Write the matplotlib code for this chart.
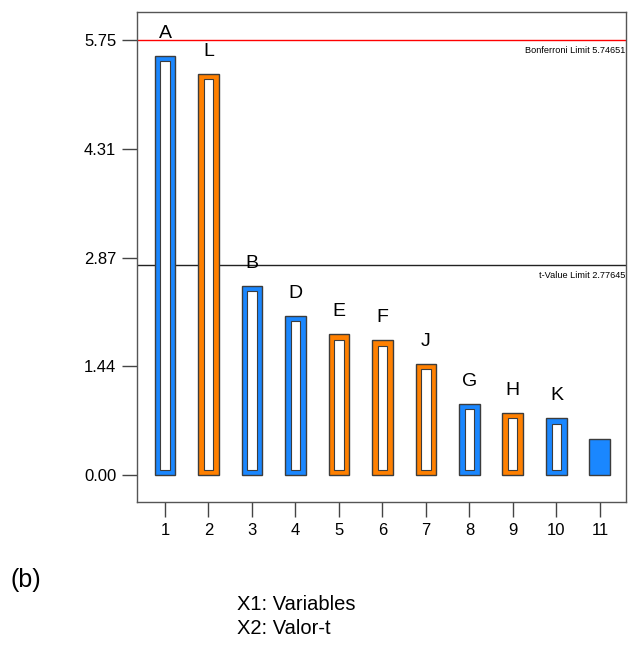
import matplotlib

matplotlib.use("Agg")
import matplotlib.pyplot as plt
import numpy as np

plt.rcParams["font.family"] = ["Liberation Sans", "DejaVu Sans"]

# effect ranks, t-values and labels
ranks = np.arange(1, 12)
t_values = [5.54, 5.30, 2.50, 2.10, 1.86, 1.78, 1.47, 0.94, 0.82, 0.75, 0.48]
labels = ["A", "L", "B", "D", "E", "F", "J", "G", "H", "K", ""]
positive = [True, False, True, True, False, False, False, True, False, True, True]
hollow = [True] * 10 + [False]
y_ticks = [0.00, 1.44, 2.87, 4.31, 5.75]
bonferroni = 5.74651
t_limit = 2.77645

blue = "#1a87ff"
orange = "#ff8000"
edge = "#3c3c3c"

fig = plt.figure(figsize=(6.29, 6.52), dpi=100)
ax = fig.add_axes([137 / 629, 1 - 502 / 652, 489 / 629, 490 / 652])

colors = [blue if p else orange for p in positive]
ax.bar(ranks, t_values, width=0.48, color=colors, edgecolor=edge, linewidth=1.0, zorder=2)

inset = 0.07
for x, h, hol in zip(ranks, t_values, hollow):
    if hol:
        ax.bar(x, h - 2 * inset, bottom=inset, width=0.21, color="white",
               edgecolor=edge, linewidth=0.8, zorder=3)

for x, h, lab in zip(ranks, t_values, labels):
    if lab:
        ax.text(x, h + 0.3, lab, ha="center", va="center", fontsize=14, color="black")

ax.axhline(bonferroni, color="red", linewidth=1.0, zorder=1)
ax.axhline(t_limit, color="#222222", linewidth=1.0, zorder=1)
ax.text(11.58, bonferroni - 0.08, f"Bonferroni Limit {bonferroni}", ha="right", va="top",
        fontsize=6.6, color="black")
ax.text(11.58, t_limit - 0.08, f"t-Value Limit {t_limit}", ha="right", va="top",
        fontsize=6.6, color="black")

ax.set_xlim(0.356, 11.6)
ax.set_ylim(-0.357, 6.12)
ax.set_xticks(ranks)
ax.set_xticklabels([str(r) for r in ranks])
ax.set_yticks(y_ticks)
ax.set_yticklabels([f"{v:.2f}" for v in y_ticks])
ax.tick_params(axis="both", direction="out", length=11, width=1.0, color="#444444",
               labelsize=12, pad=4)
for s in ax.spines.values():
    s.set_color("#555555")
    s.set_linewidth(1.0)

fig.text(10 / 629, 1 - 580 / 652, "(b)", fontsize=18, va="center", ha="left")
fig.text(237 / 629, 1 - 605 / 652, "X1: Variables", fontsize=14.5, va="center", ha="left")
fig.text(237 / 629, 1 - 628 / 652, "X2: Valor-t", fontsize=14.5, va="center", ha="left")

fig.savefig("out.png", dpi=100)
plt.close(fig)
